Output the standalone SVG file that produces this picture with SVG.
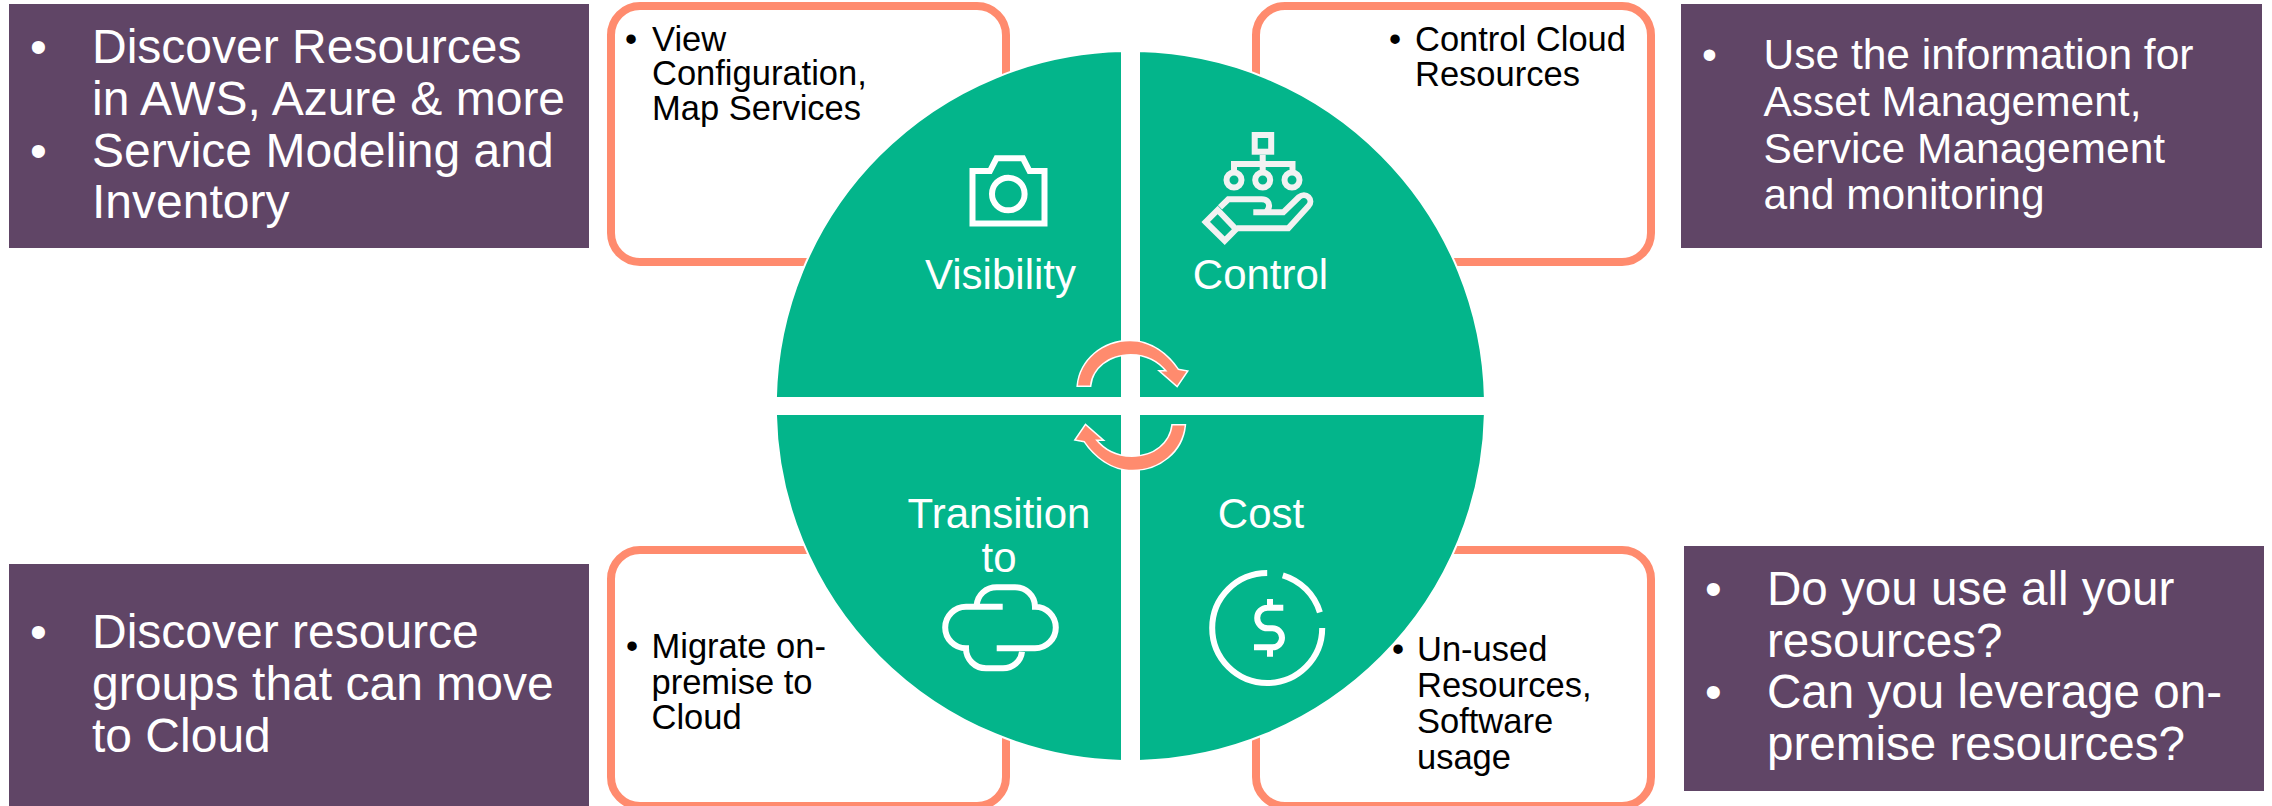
<svg xmlns="http://www.w3.org/2000/svg" xmlns:xlink="http://www.w3.org/1999/xlink" width="2272" height="806" viewBox="0 0 2272 806">
<defs>
<style>
text{font-family:"Liberation Sans",Arial,sans-serif}
.purple{fill:#604566}
.frame{fill:#fff;stroke:#FF8B6E;stroke-width:8}
.sector{fill:#03B58B;stroke:#fff;stroke-width:2}
.big{font-size:48px;fill:#fff}
.bigr{font-size:47.6px;fill:#fff}
.mid{font-size:42.5px;fill:#fff}
.small{font-size:34.5px;fill:#000}
.label{font-size:42px;fill:#fff;text-anchor:middle}
.icon{fill:none;stroke:#fff;stroke-width:6}
.iconGrey{fill:none;stroke:#F2F2F2;stroke-width:6}
.node{fill:#03B58B;stroke:#F2F2F2;stroke-width:6}
.arrow{fill:#FF8B6E;stroke:#fff;stroke-width:3;paint-order:stroke}
</style>
<path id="cycleArrow" class="arrow" d="M1078 385.5C1080.5 360 1103 341.2 1130 341.2C1151 341.2 1168 355 1178 370L1186.5 371.5L1177 385.5L1161 371.5L1167.5 371.5C1159 361 1147 354 1130.7 354C1108 354 1092 368 1090 385.5Z"/>
</defs>
<rect width="2272" height="806" fill="#fff"/>

<g id="note-discover">
<rect class="purple" x="9" y="4" width="580" height="244"/>
<text class="big" x="30" y="62.5">•</text><text class="big" x="92" y="62.5">Discover Resources</text>
<text class="big" x="92" y="115">in AWS, Azure &amp; more</text>
<text class="big" x="30" y="166.5">•</text><text class="big" x="92" y="166.5">Service Modeling and</text>
<text class="big" x="92" y="218">Inventory</text>
</g>
<g id="note-use">
<rect class="purple" x="1681" y="4" width="581" height="244"/>
<text class="mid" x="1702" y="69">•</text><text class="mid" x="1763.5" y="69">Use the information for</text>
<text class="mid" x="1763.5" y="116">Asset Management,</text>
<text class="mid" x="1763.5" y="162.5">Service Management</text>
<text class="mid" x="1763.5" y="209">and monitoring</text>
</g>
<g id="note-groups">
<rect class="purple" x="9" y="564" width="580" height="242"/>
<text class="big" x="30" y="648">•</text><text class="big" x="92" y="648">Discover resource</text>
<text class="big" x="92" y="700">groups that can move</text>
<text class="big" x="92" y="752">to Cloud</text>
</g>
<g id="note-use-all">
<rect class="purple" x="1684" y="546" width="580" height="245"/>
<text class="bigr" x="1705" y="605">•</text><text class="bigr" x="1767" y="605">Do you use all your</text>
<text class="bigr" x="1767" y="657">resources?</text>
<text class="bigr" x="1705" y="708">•</text><text class="bigr" x="1767" y="708">Can you leverage on-</text>
<text class="bigr" x="1767" y="760">premise resources?</text>
</g>

<g id="frame-view"><rect class="frame" x="611" y="6" width="395" height="256" rx="29"/></g>
<g id="frame-control"><rect class="frame" x="1256" y="6" width="395" height="256" rx="29"/></g>
<g id="frame-migrate"><rect class="frame" x="611" y="550" width="395" height="256" rx="29"/></g>
<g id="frame-unused"><rect class="frame" x="1256" y="550" width="395" height="256" rx="29"/></g>

<g id="visibility">
<path class="sector" d="M1122 398V51.1A354.5 354.5 0 0 0 775.9 398Z"/>
<path class="icon" d="M990 171L996.5 158.3H1023L1029.5 171H1044.5V223.4H972.5V171Z"/>
<circle class="icon" cx="1008.3" cy="194" r="16.3"/>
<text class="label" x="1000.5" y="289">Visibility</text>
</g>
<g id="control">
<path class="sector" d="M1139 398V51.1A354.5 354.5 0 0 1 1484.9 398Z"/>
<rect class="iconGrey" x="1254.7" y="135" width="16.5" height="16.7"/>
<path class="iconGrey" d="M1262.7 154.7V180M1234 180V164H1292.5V180"/>
<circle class="node" cx="1234" cy="180" r="7.5"/>
<circle class="node" cx="1262.7" cy="180" r="7.5"/>
<circle class="node" cx="1292" cy="180" r="7.5"/>
<path class="iconGrey" d="M1205.7 222L1224.7 240.7L1236 229.3L1217.7 210Z"/>
<path class="iconGrey" d="M1220 207.3L1228.3 199.3H1261.7C1267 199.3 1269.5 203 1269 206.5C1268.5 210 1266 212.3 1264 212.3M1253.3 212.3H1283.3L1299 197C1302 194.5 1306 194.5 1308.5 197C1311 199.5 1311 203.5 1308.5 206L1288.3 228.3H1236.7"/>
<text class="label" x="1260.5" y="289">Control</text>
</g>
<g id="transition">
<path class="sector" d="M1122 414V760.9A354.5 354.5 0 0 1 775.9 414Z"/>
<text class="label" x="999" y="528">Transition</text>
<text class="label" x="999" y="572">to</text>
<path class="icon" d="M1002.7 606.7H966A20.8 20.8 0 0 0 966 648.3C966 659.5 975 668.3 986 668.3H1003C1013 668.3 1021 661 1022 651.7"/>
<path class="icon" d="M996.7 648.3H1035A20.8 20.8 0 0 0 1035 606.7C1035 595.7 1026 587.3 1015 587.3H996.7C985.7 587.3 977.7 595 976.7 605"/>
</g>
<g id="cost">
<path class="sector" d="M1139 414V760.9A354.5 354.5 0 0 0 1484.9 414Z"/>
<text class="label" x="1261" y="528">Cost</text>
<path class="icon" d="M1267.2 573A55 55 0 1 0 1322.2 628"/>
<path class="icon" d="M1282.8 575.3A55 55 0 0 1 1319.9 612.4"/>
<path class="icon" d="M1283.3 607.7H1267.5A10.3 10.3 0 0 0 1267.5 628.3H1272.5A9.5 9.5 0 0 1 1272.5 647.3H1254M1270 599V607.7M1270 647.3V656.7"/>
</g>

<g id="connectors">
<use xlink:href="#cycleArrow"/>
<use xlink:href="#cycleArrow" transform="rotate(180 1131.3 405.5)"/>
</g>

<g id="text-view">
<text class="small" x="625" y="50.5">•</text><text class="small" x="652" y="50.5">View</text>
<text class="small" x="652" y="85">Configuration,</text>
<text class="small" x="652" y="120">Map Services</text>
</g>
<g id="text-control">
<text class="small" x="1389" y="50.5">•</text><text class="small" x="1415" y="50.5">Control Cloud</text>
<text class="small" x="1415" y="86">Resources</text>
</g>
<g id="text-migrate">
<text class="small" x="626" y="658">•</text><text class="small" x="651.5" y="658">Migrate on-</text>
<text class="small" x="651.5" y="694">premise to</text>
<text class="small" x="651.5" y="729">Cloud</text>
</g>
<g id="text-unused">
<text class="small" x="1392" y="660.5">•</text><text class="small" x="1417" y="660.5">Un-used</text>
<text class="small" x="1417" y="697">Resources,</text>
<text class="small" x="1417" y="733">Software</text>
<text class="small" x="1417" y="769">usage</text>
</g>
</svg>
